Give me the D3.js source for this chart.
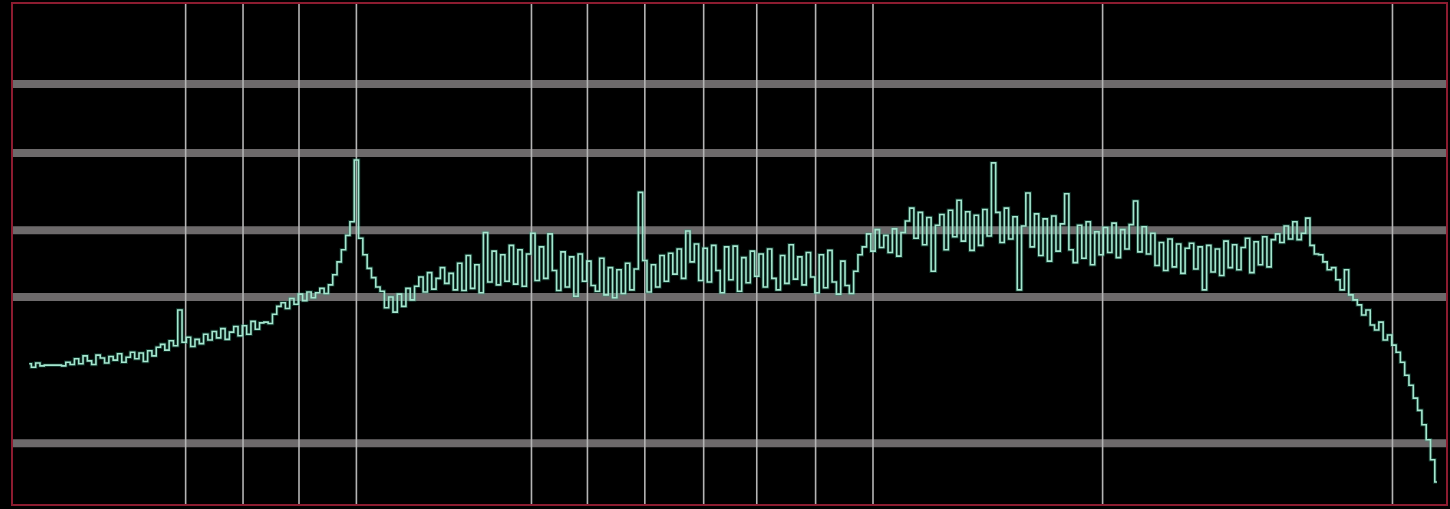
<!DOCTYPE html>
<html>
<head>
<meta charset="utf-8">
<script src="https://cdn.jsdelivr.net/npm/d3@7"></script>
<style>
  html, body { margin: 0; padding: 0; background: #000; overflow: hidden; }
  svg { display: block; }
</style>
</head>
<body>
<svg id="chart" width="1450" height="509"></svg>
<script>
// Frequency axis (arbitrary units), marker lines
const freqStart = 12;
const freqStep = 3;
const markerFreqs = [121, 161, 200, 240, 362, 401, 441, 482, 519, 560, 600, 760, 962];
// Level reference lines (dB)
const refLevels = [-11.3, -20.9, -31.7, -41.0, -61.4];
// Trace levels (dB), one per frequency step
const traceLevels = [
  -50.3,-50.8,-50.2,-50.6,-50.5,-50.5,-50.5,-50.5,-50.6,-50.1,
  -50.4,-49.6,-50.3,-49.2,-49.9,-50.4,-49.1,-49.5,-50.2,-49.3,
  -49.8,-48.9,-50.1,-49.4,-48.7,-49.6,-48.8,-50.0,-48.5,-49.2,
  -48.0,-47.6,-48.4,-47.1,-47.8,-42.8,-47.3,-46.6,-47.9,-46.9,
  -47.5,-46.2,-47.0,-45.8,-46.7,-45.4,-46.9,-45.9,-45.1,-46.4,
  -45.0,-46.2,-44.4,-45.5,-44.6,-44.5,-44.7,-43.4,-42.3,-41.8,
  -42.6,-41.2,-42.0,-40.6,-41.5,-40.3,-41.1,-40.4,-39.8,-40.5,
  -39.3,-37.9,-36.1,-34.4,-32.4,-30.5,-21.9,-32.8,-35.1,-37.0,
  -38.3,-39.6,-40.2,-42.5,-41.0,-43.1,-40.6,-42.3,-39.8,-41.4,
  -39.5,-38.2,-40.3,-37.6,-39.9,-38.4,-36.9,-39.1,-37.7,-40.0,
  -36.3,-40.1,-35.2,-39.8,-36.5,-40.4,-32.0,-38.9,-34.6,-39.3,
  -35.1,-38.8,-33.8,-39.2,-34.4,-39.5,-35.0,-32.1,-38.7,-34.0,
  -38.4,-32.2,-37.3,-40.1,-34.7,-39.6,-35.4,-40.9,-35.0,-38.8,
  -36.0,-39.4,-40.2,-35.6,-40.7,-36.9,-41.1,-37.2,-40.5,-36.3,
  -40.0,-37.1,-26.4,-35.9,-40.3,-36.5,-39.6,-35.2,-38.8,-34.9,
  -37.8,-34.3,-38.4,-31.8,-36.1,-33.6,-38.7,-34.2,-38.9,-33.8,
  -37.3,-40.4,-34.0,-38.6,-33.9,-40.2,-35.5,-39.0,-34.6,-38.1,
  -35.0,-39.6,-34.3,-38.4,-40.0,-35.2,-39.1,-33.7,-38.5,-35.4,
  -39.3,-34.8,-38.2,-40.4,-35.1,-39.7,-34.5,-38.9,-40.6,-36.0,
  -39.4,-40.5,-37.4,-35.1,-34.0,-32.2,-34.6,-31.6,-34.1,-32.4,
  -34.8,-31.5,-35.3,-32.0,-30.4,-28.6,-32.8,-29.2,-33.7,-29.9,
  -37.4,-31.0,-29.5,-34.4,-28.9,-32.6,-27.5,-33.2,-29.1,-34.5,
  -29.6,-33.8,-28.8,-32.5,-22.3,-29.2,-33.4,-28.6,-32.9,-29.8,
  -40.0,-31.1,-26.5,-34.0,-29.4,-35.2,-30.1,-36.0,-29.7,-34.6,
  -30.8,-26.6,-34.4,-36.2,-31.0,-35.6,-30.5,-36.5,-31.9,-35.1,
  -31.3,-34.8,-30.7,-35.5,-31.6,-34.3,-30.9,-27.6,-34.7,-31.2,
  -35.0,-32.1,-36.6,-33.4,-37.3,-32.9,-36.8,-33.6,-37.7,-34.2,
  -33.5,-37.1,-34.0,-40.0,-33.8,-37.5,-34.3,-38.0,-33.2,-36.9,
  -33.7,-37.2,-34.1,-32.8,-37.6,-33.3,-36.5,-32.6,-36.8,-33.0,
  -32.2,-33.4,-31.1,-32.9,-30.5,-33.0,-32.1,-30.0,-33.8,-35.0,
  -35.1,-36.1,-37.2,-36.9,-38.6,-40.0,-37.2,-40.7,-41.4,-42.1,
  -43.5,-42.8,-44.9,-45.6,-44.5,-47.0,-46.3,-47.7,-48.7,-50.1,
  -51.9,-53.3,-55.1,-56.8,-58.8,-60.9,-63.7,-66.8
];

const W = 1450, H = 509;
const svg = d3.select("#chart");

const x = d3.scaleLinear().domain([0, 1000]).range([12, 1447]);
const y = d3.scaleLinear().domain([-70, 0]).range([505, 3]);

const data = traceLevels.map((v, i) => ({ f: freqStart + i * freqStep, v }));

svg.append("rect").attr("x", 0).attr("y", 0).attr("width", W).attr("height", H).attr("fill", "#000");

// horizontal reference lines
svg.append("g").selectAll("line").data(refLevels).join("line")
  .attr("x1", x(0)).attr("x2", x(1000))
  .attr("y1", d => y(d)).attr("y2", d => y(d))
  .attr("stroke", "#6d6a6b").attr("stroke-width", 8);

// vertical marker lines
svg.append("g").selectAll("line").data(markerFreqs).join("line")
  .attr("x1", d => x(d)).attr("x2", d => x(d))
  .attr("y1", y(0)).attr("y2", y(-70))
  .attr("stroke", "#b4b4b4").attr("stroke-width", 1.6);

// trace with faint glow
const line = d3.line().x(d => x(d.f)).y(d => y(d.v)).curve(d3.curveStep);
svg.append("path").datum(data)
  .attr("d", line).attr("fill", "none")
  .attr("stroke", "#2f9c7c").attr("stroke-opacity", 0.35).attr("stroke-width", 3.5);
svg.append("path").datum(data)
  .attr("d", line).attr("fill", "none")
  .attr("stroke", "#a6e6cf").attr("stroke-width", 1.6);

// red frame
svg.append("rect")
  .attr("x", x(0)).attr("y", y(0))
  .attr("width", x(1000) - x(0)).attr("height", y(-70) - y(0))
  .attr("fill", "none").attr("stroke", "#8c1c30").attr("stroke-width", 2);
</script>
</body>
</html>
